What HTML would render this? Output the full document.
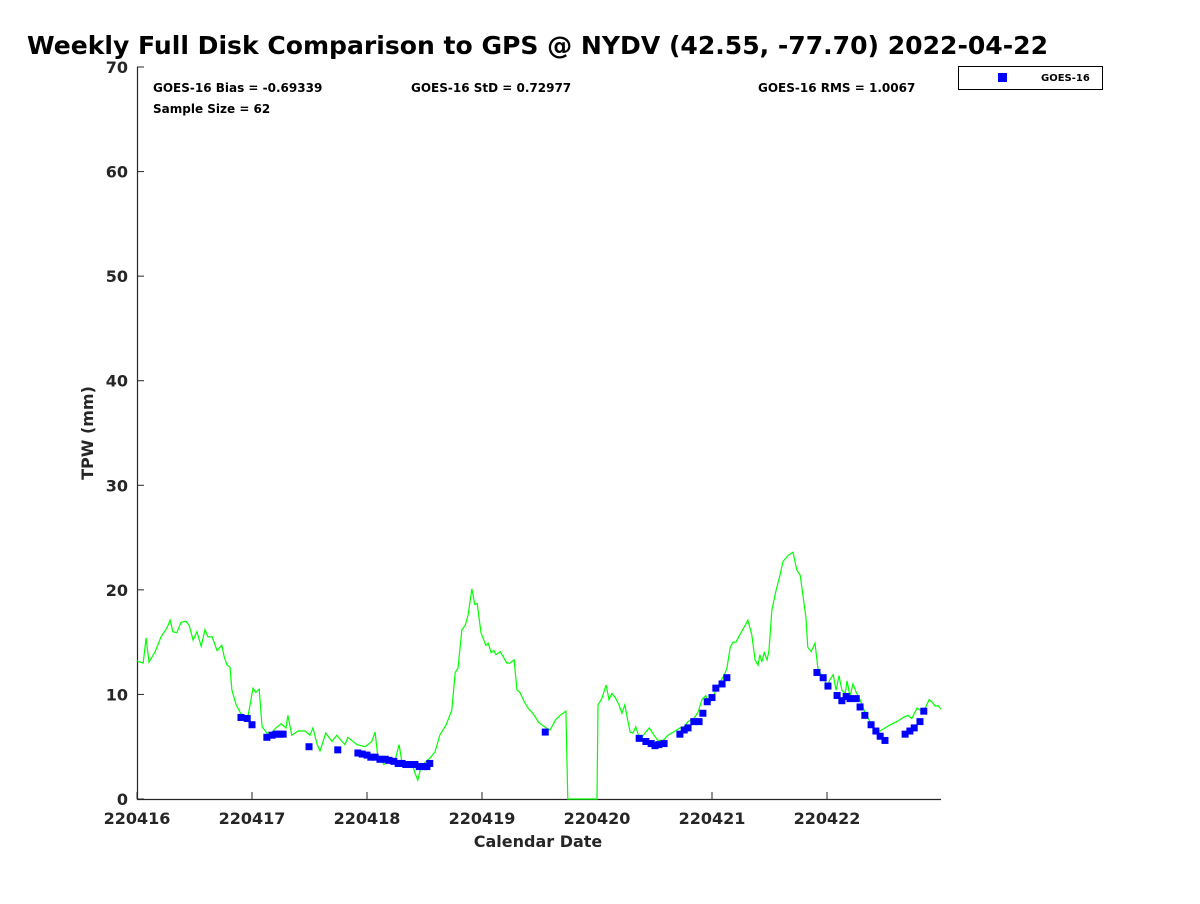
<!DOCTYPE html>
<html><head><meta charset="utf-8"><style>
body{margin:0;background:#fff;width:1200px;height:900px;overflow:hidden;font-family:"DejaVu Sans",sans-serif}
</style></head><body>
<svg id="chart" width="1200" height="900" font-family="DejaVu Sans, sans-serif">
<text x="27" y="54" font-size="24.5" font-weight="bold" fill="#000" textLength="1021" lengthAdjust="spacingAndGlyphs">Weekly Full Disk Comparison to GPS @ NYDV (42.55, -77.70) 2022-04-22</text>
<g id="axes"></g>
<g id="series"></g>
<text x="153" y="92" font-size="12" font-weight="bold">GOES-16 Bias = -0.69339</text>
<text x="411" y="92" font-size="12" font-weight="bold">GOES-16 StD = 0.72977</text>
<text x="758" y="92" font-size="12" font-weight="bold">GOES-16 RMS = 1.0067</text>
<text x="153" y="113" font-size="12" font-weight="bold">Sample Size = 62</text>
<g>
<rect x="958.5" y="66.5" width="144" height="23" fill="#fff" stroke="#000" stroke-width="1"/>
<rect x="998" y="73" width="9" height="9" fill="#0000ff"/>
<text x="1041" y="81" font-size="10" font-weight="bold">GOES-16</text>
</g>
<text x="538" y="847" font-size="16" font-weight="bold" fill="#262626" text-anchor="middle">Calendar Date</text>
<text transform="translate(93,433) rotate(-90)" font-size="16" font-weight="bold" fill="#262626" text-anchor="middle">TPW (mm)</text>
</svg>
<script>
const xTickLabels=["220416","220417","220418","220419","220420","220421","220422"];
const yTicks=[0,10,20,30,40,50,60,70];
const gpsHours=[0,1.3,1.9,2.5,3.8,5.0,6.3,6.9,7.5,8.3,9.2,10.2,10.9,11.7,12.5,13.4,14.2,14.8,15.7,16.7,17.7,18.2,18.8,19.4,19.8,20.7,21.5,22.5,23.2,24.2,24.8,25.5,26.1,27.1,28.2,29.0,30.1,31.1,31.5,32.3,33.6,35.1,36.1,36.7,37.6,38.2,39.4,40.7,41.7,42.4,43.4,44.0,45.9,47.6,49.0,49.7,50.3,50.7,51.5,52.8,53.8,54.7,55.3,56.6,57.4,58.0,58.6,59.3,60.1,61.1,62.2,63.2,64.5,65.7,66.4,67.0,67.8,68.5,69.1,69.9,70.5,71.0,71.8,72.8,73.3,73.9,74.5,74.9,75.8,77.2,77.8,78.7,79.3,79.9,80.8,81.6,82.6,83.9,85.4,86.2,86.8,87.4,88.3,89.5,89.9,96.0,96.2,97.0,97.9,98.5,99.1,99.8,100.6,101.2,101.8,102.9,103.5,104.1,105.0,106.0,106.9,107.9,108.7,109.8,110.8,111.9,113.3,114.2,115.0,116.2,117.1,117.9,118.7,119.2,120.0,120.8,121.7,122.5,123.1,123.8,124.4,125.0,125.8,126.9,127.5,128.3,129.0,129.6,130.0,130.4,130.9,131.5,131.9,132.5,133.4,134.2,134.8,135.9,136.9,137.7,138.4,139.6,140.0,140.7,141.5,142.1,142.5,143.4,144.0,144.6,145.3,145.9,146.5,147.1,147.8,148.2,148.8,149.4,150.1,150.9,151.9,153.0,153.6,154.4,155.1,156.1,157.2,158.6,159.9,160.9,161.7,162.8,163.4,164.2,165.3,165.9,166.5,167.2,167.8];
const gpsValues=[13.2,13.0,15.4,13.1,14.1,15.5,16.4,17.1,16.0,15.9,16.9,17.0,16.6,15.2,16.0,14.6,16.2,15.5,15.5,14.2,14.7,13.6,12.8,12.6,10.4,9.0,8.3,7.7,8.0,10.6,10.2,10.5,6.9,6.3,6.4,6.8,7.2,6.8,8.0,6.1,6.5,6.5,6.1,6.8,5.2,4.6,6.3,5.5,6.1,5.7,5.2,5.9,5.2,5.0,5.5,6.4,3.9,4.1,3.3,3.7,3.6,5.2,3.5,3.5,3.4,2.5,1.8,3.1,3.5,3.9,4.5,6.1,7.1,8.5,12.1,12.5,16.2,16.6,17.6,20.1,18.6,18.7,15.9,14.7,14.9,14.0,14.2,13.8,14.1,13.0,13.0,13.3,10.4,10.2,9.3,8.7,8.2,7.3,6.8,6.6,7.1,7.6,8.0,8.4,0,0,9.0,9.6,10.9,9.5,10.1,9.7,9.0,8.2,9.0,6.4,6.3,6.9,5.6,6.3,6.8,6.1,5.6,5.6,6.1,6.4,6.8,6.9,7.4,7.7,8.3,9.5,9.9,9.1,9.5,10.4,11.2,11.8,12.5,14.5,15.0,15.0,15.7,16.6,17.1,15.7,13.3,12.8,13.8,13.1,14.0,13.3,14.2,18.1,20.0,21.4,22.7,23.3,23.6,21.9,21.4,17.4,14.5,14.1,14.9,12.5,12.1,11.6,10.7,11.4,11.9,10.4,11.8,10.4,10.1,11.3,9.8,11.0,10.2,9.5,8.3,7.4,6.8,6.6,6.5,6.8,7.1,7.4,7.8,8.0,7.7,8.7,8.5,8.4,9.5,9.3,8.9,8.9,8.6];
const goesHours=[21.7,23.0,24.0,27.1,28.2,29.0,29.8,30.5,35.9,41.9,46.1,47.0,48.0,48.8,49.7,50.7,51.8,52.6,53.6,54.5,55.3,56.1,57.2,58.0,58.9,59.7,60.5,61.1,85.2,104.8,106.2,107.3,108.1,108.9,110.0,113.3,114.2,115.0,116.2,117.3,118.1,119.0,120.0,120.8,122.1,123.1,141.9,143.2,144.2,146.1,147.1,148.0,148.8,150.1,150.9,151.9,153.2,154.2,155.1,156.1,160.3,161.3,162.2,163.4,164.2];
const goesValues=[7.8,7.7,7.1,5.9,6.1,6.2,6.2,6.2,5.0,4.7,4.4,4.3,4.2,4.0,4.0,3.8,3.8,3.7,3.6,3.4,3.4,3.3,3.3,3.3,3.1,3.1,3.1,3.4,6.4,5.8,5.5,5.3,5.1,5.2,5.3,6.2,6.6,6.8,7.4,7.4,8.2,9.3,9.7,10.6,11.0,11.6,12.1,11.6,10.8,9.9,9.4,9.8,9.6,9.6,8.8,8.0,7.1,6.5,6.0,5.6,6.2,6.5,6.8,7.4,8.4];

const NS="http://www.w3.org/2000/svg";
const X0=137,X1=941,Y0=799,Y1=67;
const xScale=h=>X0+h*(115/24);
const yScale=v=>Y0-(v/70)*(Y0-Y1);
function mk(tag,attrs,parent){const e=document.createElementNS(NS,tag);for(const k in attrs)e.setAttribute(k,attrs[k]);parent.appendChild(e);return e;}
const axes=document.getElementById('axes'),series=document.getElementById('series');
const pts=gpsHours.map((h,i)=>xScale(h).toFixed(1)+','+yScale(gpsValues[i]).toFixed(1)).join(' ');
const line=mk('polyline',{points:pts,fill:'none',stroke:'#00ff00','stroke-width':1.2},series);


goesHours.forEach((h,i)=>{const r=mk('rect',{x:xScale(h)-3.5,y:yScale(goesValues[i])-3.5,width:7,height:7,fill:'#0000ff'},series);
 
 });
const frame=mk('path',{d:`M${X0+0.5},${Y1} V${Y0+0.5} H${X1}`,stroke:'#262626',fill:'none','stroke-width':1.2},axes);


yTicks.forEach(v=>{const y=yScale(v);
 const t=mk('line',{x1:X0,x2:X0+7,y1:y,y2:y,stroke:'#262626'},axes);
 
 
 const l=mk('text',{x:X0-9,y:y+6,'font-size':16,'font-weight':'bold','text-anchor':'end',fill:'#262626'},axes);l.textContent=v;
 
 });
xTickLabels.forEach((s,i)=>{const x=xScale(i*24);
 const t=mk('line',{x1:x,x2:x,y1:Y0,y2:Y0-7,stroke:'#262626'},axes);
 
 
 const l=mk('text',{x:x,y:824,'font-size':16,'font-weight':'bold','text-anchor':'middle',fill:'#262626'},axes);l.textContent=s;
 
 });
</script>
</body></html>
